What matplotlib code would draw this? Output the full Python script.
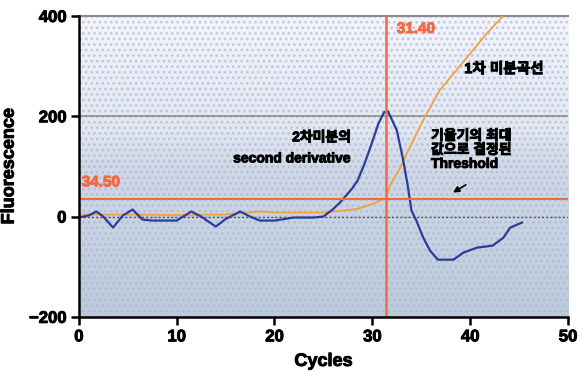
import numpy as np
import matplotlib
matplotlib.use("Agg")
import matplotlib.pyplot as plt
import matplotlib.patheffects as pe
from matplotlib.colors import LinearSegmentedColormap
from matplotlib.patches import Rectangle

plt.rcParams['font.family'] = ['Liberation Sans', 'Noto Sans CJK KR', 'DejaVu Sans']
plt.rcParams['hatch.linewidth'] = 1.2

# second derivative curve (blue)
d2_x = [0, 1, 1.8, 2.5, 3.5, 4.5, 5.5, 6.5, 7.5, 9, 10, 11.5, 12.5, 14, 15, 16.5, 17.5,
        18.5, 20, 21, 22, 23, 24, 25, 26, 26.7, 27.9, 28.5, 29.2, 29.8, 30.6, 31.2, 31.6,
        32.5, 33.1, 33.6, 34.0, 34.5, 35.2, 35.9, 36.7, 38.3, 39.3, 40.7, 42.3, 43.4,
        44.1, 45.3]
d2_y = [-2, 2, 10, 0, -22, 2, 14, -6, -8, -8, -8, 10, 0, -20, -5, 10, 0,
        -8, -8, -5, -2, -2, -2, 0, 15, 28, 55, 72, 105, 138, 184, 208, 210,
        172, 118, 64, 12, -8, -42, -68, -86, -86, -72, -62, -58, -42,
        -22, -12]

# first derivative curve (orange)
d1_x = [0, 5, 10, 15, 18.5, 20, 25, 28.4, 30, 31.4, 31.8, 32.8, 33.5, 35.2, 36.9,
        38.6, 40, 41.7, 43.6]
d1_y = [4, 4, 3, 4, 10, 8, 8, 15, 25, 37, 62, 95, 125, 192, 252,
        292, 325, 365, 405]

threshold_y = 34.5
ct_x = 31.4
threshold_label = "34.50"
ct_label = "31.40"

fig = plt.figure(figsize=(5.88, 3.71), dpi=100)
ax = fig.add_axes([0.134, 0.146, 0.832, 0.811])
ax.set_xlim(0, 50)
ax.set_ylim(-200, 400)

# background gradient with dot texture
cmap = LinearSegmentedColormap.from_list(
    "bg", [(0, "#bccbd9"), (0.5, "#d0d9e5"), (0.62, "#e2e7f0"), (1, "#f3f5f9")])
grad = np.linspace(0, 1, 256).reshape(-1, 1)
ax.imshow(grad, extent=[0, 50, -200, 400], origin="lower", aspect="auto",
          cmap=cmap, zorder=0)
ax.add_patch(Rectangle((0, -200), 50, 600, facecolor="none", edgecolor="#a8b2e0",
                       hatch="...", linewidth=0, alpha=0.6, zorder=0.5))

ax.axhline(200, color="#8c8c8c", lw=1.2, zorder=1)
ax.axhline(400, color="#8c8c8c", lw=1.5, zorder=1, clip_on=False)
ax.axhline(0, color="#555555", lw=1.0, ls=(0, (1.5, 1.5)), zorder=1)

ax.plot(d1_x, d1_y, color="#f5a040", lw=1.3, zorder=3)
ax.plot(d2_x, d2_y, color="#2a3c9c", lw=1.6, zorder=4)

ax.axhline(threshold_y, color="#f26a44", lw=1.5, zorder=5)
ax.axvline(ct_x, color="#f26a44", lw=1.8, zorder=5)

bold_fx = [pe.withStroke(linewidth=0.7, foreground="black")]
orange_fx = [pe.withStroke(linewidth=0.7, foreground="#f26a44")]

ax.text(0.3, 68, threshold_label, color="#f26a44", fontsize=11, fontweight="bold",
        va="center", ha="left", zorder=6, path_effects=orange_fx)
ax.text(32.5, 374, ct_label, color="#f26a44", fontsize=11, fontweight="bold",
        va="center", ha="left", zorder=6, path_effects=orange_fx)

ax.text(27.8, 158, "2차미분의", fontsize=10, fontweight="bold", ha="right",
        va="center", zorder=6, path_effects=bold_fx)
ax.text(27.8, 116, "second derivative", fontsize=10, fontweight="bold", ha="right",
        va="center", zorder=6, path_effects=bold_fx)
ax.text(39.4, 294, "1차 미분곡선", fontsize=10.5, fontweight="bold", ha="left",
        va="center", zorder=6, path_effects=bold_fx)
ax.text(36.0, 133, "기울기의 최대\n값으로 결정된\nThreshold", fontsize=10,
        fontweight="bold", ha="left", va="center", linespacing=1.0, zorder=6,
        path_effects=bold_fx)
ax.annotate("", xy=(38.0, 45), xytext=(39.8, 66),
            arrowprops=dict(arrowstyle="-|>", color="black", lw=1.2,
                            mutation_scale=9), zorder=6)

ax.set_xticks([0, 10, 20, 30, 40, 50])
ax.set_yticks([-200, 0, 200, 400])
ax.tick_params(direction="out", length=6, width=1.8, labelsize=12, pad=3)
for lab in ax.get_xticklabels() + ax.get_yticklabels():
    lab.set_fontweight("bold")
    lab.set_path_effects(bold_fx)
for s in ["top", "right"]:
    ax.spines[s].set_visible(False)
for s in ["left", "bottom"]:
    ax.spines[s].set_linewidth(1.8)
    ax.spines[s].set_zorder(7)

ax.set_xlabel("Cycles", fontsize=13, fontweight="bold", path_effects=bold_fx)
ax.set_ylabel("Fluorescence", fontsize=13, fontweight="bold", path_effects=bold_fx)
ax.xaxis.set_label_coords(0.5, -0.12)
ax.yaxis.set_label_coords(-0.125, 0.5)

fig.savefig("out.png", dpi=100)
